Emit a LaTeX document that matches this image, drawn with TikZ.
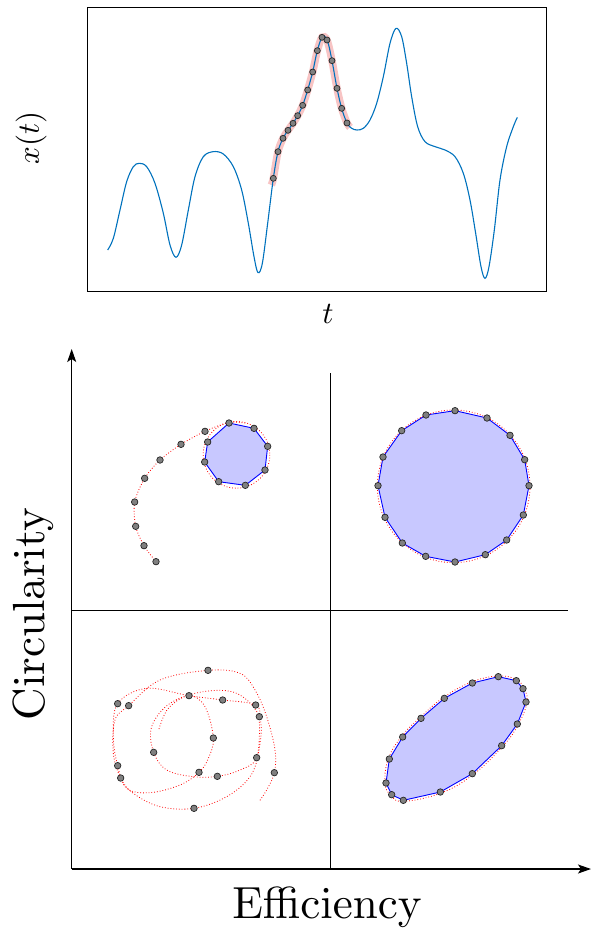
\documentclass[tikz,border=0pt]{standalone}
\usetikzlibrary{arrows.meta}
\definecolor{curveblue}{RGB}{0,114,189}
\definecolor{polyfill}{RGB}{200,200,255}
\definecolor{dotgray}{RGB}{128,128,128}
\definecolor{pinkband}{RGB}{248,196,196}
\font\bigrm=cmr10 at 45pt
\font\midrm=cmr10 at 31pt
\font\midmi=cmmi10 at 31pt
\begin{document}
\begin{tikzpicture}[x=1pt,y=-1pt,
  dot/.style={circle,draw=black!85,fill=dotgray,line width=0.7pt,inner sep=0pt,minimum size=6.5pt},
  reddot/.style={red,dotted,line width=0.8pt},
  poly/.style={blue,line width=0.9pt,fill=polyfill},
  axisline/.style={line width=1.1pt,black},
  biglbl/.style={font=\bigrm},
  midlbl/.style={font=\midrm}]
\useasboundingbox (0,0) rectangle (591,928);

% ---------- top plot ----------
\draw[line width=1pt] (87,8) rectangle (546,291);
\begin{scope}[shift={(85,0)},scale=1/3]
  \draw[pinkband,line width=7.5pt] plot[smooth] coordinates {(559,555) (565,535) (579,455) (594,415) (609,391) (624,370) (638,347) (653,316) (668,270) (683,216) (697,152) (711,112) (726,120) (741,182) (756,265) (770,325) (786,369) (795,382)};
  \draw[curveblue,line width=1.1pt] plot[smooth,tension=0.55] coordinates {
    (68,750) (85,715) (105,630) (125,545) (145,500) (163,490) (185,500) (210,550) (235,640) (255,735) (273,772) (290,735) (310,630) (330,530) (355,470) (385,455) (415,462) (445,500) (470,570) (490,670) (507,770) (519,818) (532,790) (548,670) (565,535)
    (579,455) (594,415) (609,391) (624,370) (638,347) (653,316) (668,270) (683,216) (697,152) (713,108) (728,125) (741,182) (756,265) (770,325) (786,369)
    (800,385) (816,390) (835,385) (855,360) (875,310) (895,230) (915,130) (933,85) (950,110) (965,190) (980,290) (998,380) (1020,425) (1050,440) (1080,450) (1110,470) (1135,520) (1155,600) (1172,700) (1188,800) (1200,835) (1212,800) (1228,690) (1245,540) (1265,440) (1285,380) (1297,352)};
  \foreach \p in {(565,535),(579,455),(594,415),(609,391),(624,370),(638,347),(653,316),(668,270),(683,216),(697,152),(711,112),(726,120),(741,182),(756,265),(770,325),(786,369)}
    \node[dot,minimum size=6pt] at \p {};
\end{scope}
\node[midlbl,rotate=90] (xlab) at (31,138) {{\midmi x}({\midmi t})};
\node[midlbl] (tlab) at (328,314) {{\midmi t}};

% ---------- axes ----------
\coordinate (O) at (71.7,869);
\coordinate (ytop) at (71.7,349);
\coordinate (xend) at (591,869);
\coordinate (vtop) at (330,373);
\coordinate (vbot) at (330,869);
\coordinate (hleft) at (71.7,610);
\coordinate (hright) at (568,610);
\draw[axisline,-{Stealth[length=13pt,width=9pt,inset=3pt]}] (O) -- (ytop);
\draw[axisline,-{Stealth[length=13pt,width=9pt,inset=3pt]}] (O) -- (xend);
\draw[line width=1pt] (vtop) -- (vbot);
\draw[line width=1pt] (hleft) -- (hright);
\node[biglbl,anchor=base] (xl) at (327,918) {Efficiency};
\node[biglbl,rotate=90,anchor=base] (yl) at (44,614) {Circularity};

% ---------- quadrant 1: spiral into circle ----------
\begin{scope}[shift={(60,360)},scale=1/3]
  \draw[reddot] plot[smooth] coordinates {(288,605) (252,557) (227,499) (224,426) (254,355) (300,300) (363,253) (435,214) (507,187) (560,190)};
  \draw[reddot] (529.5,284.5) circle (100);
  \draw[poly] (507,189) -- (582,205) -- (623,259) -- (615,330) -- (556,376) -- (476,365) -- (434,306) -- (443,246) -- cycle;
  \foreach \p in {(288,605),(252,557),(227,499),(224,426),(254,355),(300,300),(363,253),(435,214),(507,189),(582,205),(623,259),(615,330),(556,376),(476,365),(434,306),(443,246)}
    \node[dot] at \p {};
\end{scope}

% ---------- quadrant 2: circle ----------
\begin{scope}[shift={(330,370)},scale=1/3]
  \draw[poly] (375,122) -- (471,144) -- (540,196) -- (584,269) -- (597,347) -- (580,435) -- (530,510) -- (466,554) -- (375,576) -- (287,559) -- (217,519) -- (165,442) -- (144,347) -- (159,261) -- (215,182) -- (288,135) -- cycle;
  \draw[reddot] (371,349) circle (229);
  \foreach \p in {(375,122),(471,144),(540,196),(584,269),(597,347),(580,435),(530,510),(466,554),(375,576),(287,559),(217,519),(165,442),(144,347),(159,261),(215,182),(288,135)}
    \node[dot] at \p {};
\end{scope}

% ---------- quadrant 3: tangle ----------
\begin{scope}[shift={(60,610)},scale=1/3]
  \draw[reddot] plot[smooth,tension=0.6] coordinates {
    (297,357) (325,295) (387,257) (435,290) (460,384) (445,445) (417,487) (360,525) (270,548) (200,535) (173,467) (160,380) (173,281) (260,235) (387,257) (488,270) (587,285) (598,330) (590,443) (540,480) (472,499) (400,500) (320,480) (281,427) (275,350) (330,280) (430,245) (530,250) (598,320) (597,420) (570,500) (500,560) (402,595) (300,590) (220,550) (182,504) (160,430) (165,330) (206,287) (300,210) (444,181) (540,190) (585,240) (620,320) (645,420) (643,488) (620,540) (597,575)};
  \foreach \p in {(444,181),(387,257),(488,270),(173,281),(206,287),(587,285),(598,320),(460,384),(281,427),(590,443),(173,467),(182,504),(417,487),(472,499),(643,488),(402,595)}
    \node[dot] at \p {};
\end{scope}

% ---------- quadrant 4: ellipse ----------
\begin{scope}[shift={(330,610)},scale=1/3]
  \draw[poly] (505,200) -- (559,212) -- (579,236) -- (588,276) -- (562,342) -- (515,407) -- (427,491) -- (331,546) -- (220,571) -- (185,554) -- (168,519) -- (178,447) -- (218,381) -- (273,325) -- (343,265) -- (427,219) -- cycle;
  \draw[reddot] plot[smooth cycle,tension=0.7] coordinates {(505,198) (559,209) (582,236) (591,276) (565,343) (518,409) (429,494) (333,549) (221,574) (183,556) (165,519) (175,446) (215,379) (271,322) (341,262) (425,216)};
  \foreach \p in {(505,200),(559,212),(579,236),(588,276),(562,342),(515,407),(427,491),(331,546),(220,571),(185,554),(168,519),(178,447),(218,381),(273,325),(343,265),(427,219)}
    \node[dot] at \p {};
\end{scope}
\end{tikzpicture}
\end{document}
